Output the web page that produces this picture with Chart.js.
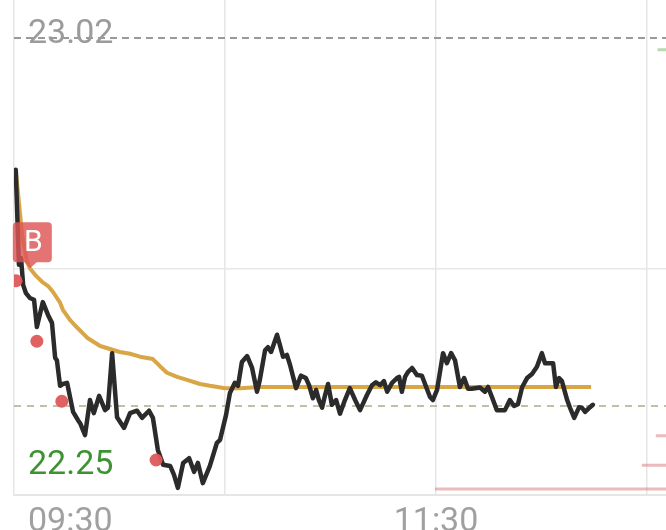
<!DOCTYPE html>
<html>
<head>
<meta charset="utf-8">
<script src="https://cdn.jsdelivr.net/npm/chart.js@4.4.1/dist/chart.umd.min.js"></script>
<style>
  html, body { margin: 0; padding: 0; background: #fff; overflow: hidden; }
  #wrap { width: 666px; height: 530px; }
</style>
</head>
<body>
<div id="wrap"><canvas id="intraday" width="666" height="530"></canvas></div>
<script>
// minutes since 09:30 and price of the intraday line
const minutes = [0.5, 1.4, 2.0, 2.6, 3.4, 4.5, 5.7, 6.5, 8.2, 9.7, 10.8, 11.7, 12.2, 13.1, 13.9, 15.1, 16.8, 18.2, 18.8, 20.2,
  21.6, 22.7, 24.2, 25.9, 26.7, 27.9, 29.3, 31.3, 33.0, 35.0, 36.4, 38.4, 39.5, 40.9, 42.4, 44.4, 45.5, 46.6, 48.1, 49.8,
  51.2, 52.3, 53.7, 55.7, 57.7, 58.6, 60.3, 61.4, 62.8, 63.7, 64.8, 66.3, 67.7, 69.1, 69.9, 71.4, 72.2, 73.1, 74.8, 75.6,
  76.5, 77.6, 78.5, 80.2, 81.6, 83.0, 83.9, 85.0, 85.9, 86.7, 87.6, 88.4, 89.3, 90.4, 91.6, 92.7, 94.1, 95.5, 97.0, 98.4,
  100.4, 101.8, 102.9, 104.1, 105.2, 106.1, 107.5, 108.9, 109.5, 110.3, 111.2, 112.0, 113.2, 114.6, 116.0, 117.2, 118.3, 119.1, 120.3, 122.0,
  123.1, 124.3, 125.4, 126.8, 128.0, 129.1, 130.2, 132.5, 133.9, 134.8, 135.9, 137.3, 139.6, 141.0, 142.2, 143.3, 144.5, 145.9, 147.3, 148.7,
  150.1, 151.0, 153.3, 154.1, 155.0, 155.8, 157.3, 158.1, 159.3, 160.7, 161.5, 162.4, 163.8, 164.6];
const prices = [22.798, 22.638, 22.649, 22.604, 22.590, 22.582, 22.579, 22.533, 22.575, 22.553, 22.540, 22.481, 22.477, 22.434, 22.437, 22.439, 22.390, 22.376, 22.371, 22.351,
  22.410, 22.388, 22.417, 22.393, 22.397, 22.489, 22.381, 22.363, 22.388, 22.392, 22.380, 22.392, 22.380, 22.326, 22.301, 22.299, 22.284, 22.262, 22.304, 22.312,
  22.289, 22.304, 22.270, 22.299, 22.338, 22.343, 22.385, 22.422, 22.439, 22.434, 22.474, 22.484, 22.464, 22.424, 22.444, 22.494, 22.499, 22.491, 22.520, 22.503,
  22.483, 22.486, 22.469, 22.430, 22.451, 22.447, 22.435, 22.413, 22.427, 22.410, 22.397, 22.417, 22.437, 22.402, 22.410, 22.387, 22.410, 22.430, 22.410, 22.393,
  22.419, 22.435, 22.440, 22.435, 22.442, 22.424, 22.439, 22.447, 22.449, 22.424, 22.449, 22.457, 22.464, 22.452, 22.451, 22.432, 22.415, 22.410, 22.427, 22.489,
  22.472, 22.489, 22.477, 22.432, 22.447, 22.429, 22.429, 22.431, 22.424, 22.432, 22.415, 22.393, 22.393, 22.410, 22.400, 22.403, 22.432, 22.447, 22.454, 22.466,
  22.489, 22.472, 22.472, 22.432, 22.447, 22.442, 22.410, 22.397, 22.380, 22.398, 22.397, 22.390, 22.398, 22.402];

// average price line
const avgMinutes = [0.5, 2.3, 3.7, 4.5, 6.0, 8.0, 9.7, 11.1, 13.1, 13.9, 15.9, 17.3, 20.8, 24.5, 27.3, 30.1, 33.0, 35.8, 39.5, 41.5,
  43.5, 46.4, 49.2, 52.9, 55.7, 60.0, 64.3, 70.0, 164.1];
const avgPrices = [22.798, 22.688, 22.643, 22.632, 22.621, 22.609, 22.602, 22.592, 22.574, 22.562, 22.545, 22.536, 22.515, 22.501, 22.496, 22.491, 22.488, 22.483, 22.479, 22.467,
  22.456, 22.449, 22.444, 22.437, 22.434, 22.430, 22.430, 22.432, 22.432];

// buy points
const buyMinutes = [0.6, 6.5, 13.6, 40.4];
const buyPrices = [22.611, 22.509, 22.408, 22.309];
const buyTagMinute = 4.5;
const buyTagPrice = 22.632;

// reference prices
const highPrice = 23.02;
const lowPrice = 22.25;
const prevClose = 22.40;
const sessionEnd = 240;

// pending order lines at the right
const bidPrices = [23.00];
const bidStarts = [183.0];
const askPrices = [22.35, 22.30, 22.26];
const askStarts = [182.5, 178.5, 119.7];

// axis
const gridMinutes = [0, 60, 120, 180];
const gridPrices = [22.25, 22.632];
const tickMinutes = [0, 120];
const tickLabels = ['09:30', '11:30'];

const xMax = 185.4;
const yMax = 23.084;

function pairs(xs, ys) {
    return xs.map((x, i) => ({ x: x, y: ys[i] }));
}

const datasets = [
    {
        data: pairs(buyMinutes, buyPrices),
        showLine: false,
        pointRadius: 6.5,
        pointBackgroundColor: 'rgba(222, 88, 88, 0.95)',
        pointBorderWidth: 0,
        order: 0
    },
    {
        data: pairs(minutes, prices),
        borderColor: '#2b2b2b',
        borderWidth: 4.5,
        pointRadius: 0,
        borderJoinStyle: 'round',
        borderCapStyle: 'round',
        order: 1
    },
    {
        data: pairs(avgMinutes, avgPrices),
        borderColor: '#d9a646',
        borderWidth: 4,
        pointRadius: 0,
        borderJoinStyle: 'round',
        order: 2
    },
    {
        data: [{ x: 0, y: highPrice }, { x: sessionEnd, y: highPrice }],
        borderColor: '#9a9a9a',
        borderWidth: 2,
        borderDash: [7, 5],
        pointRadius: 0,
        order: 3
    },
    {
        data: [{ x: 0, y: prevClose }, { x: sessionEnd, y: prevClose }],
        borderColor: '#b3a98a',
        borderWidth: 1.5,
        borderDash: [7, 6],
        pointRadius: 0,
        order: 3
    }
];

bidPrices.forEach((p, i) => {
    datasets.push({
        data: [{ x: bidStarts[i], y: p }, { x: sessionEnd, y: p }],
        borderColor: 'rgba(120, 190, 110, 0.55)',
        borderWidth: 3,
        pointRadius: 0,
        order: 4
    });
});
askPrices.forEach((p, i) => {
    datasets.push({
        data: [{ x: askStarts[i], y: p }, { x: sessionEnd, y: p }],
        borderColor: 'rgba(215, 120, 120, 0.5)',
        borderWidth: 3,
        pointRadius: 0,
        order: 4
    });
});

// labels and the B tag
const labelPlugin = {
    id: 'labels',
    afterDatasetsDraw(chart) {
        const ctx = chart.ctx;
        const xs = chart.scales.x;
        const ys = chart.scales.y;
        const area = chart.chartArea;

        // B tag
        const tx = xs.getPixelForValue(buyTagMinute);
        const ty = ys.getPixelForValue(buyTagPrice);
        const bx = tx - 17, by = ty - 46, bw = 39, bh = 40;
        ctx.save();
        ctx.fillStyle = 'rgba(222, 86, 86, 0.82)';
        ctx.beginPath();
        ctx.roundRect(bx, by, bw, bh, 4);
        ctx.moveTo(tx - 5, by + bh);
        ctx.lineTo(tx + 7, by + bh);
        ctx.lineTo(tx, ty);
        ctx.closePath();
        ctx.fill();
        ctx.fillStyle = '#fff';
        ctx.font = '30px Roboto';
        ctx.textAlign = 'center';
        ctx.textBaseline = 'middle';
        ctx.fillText('B', bx + bw / 2 + 1, by + bh / 2 + 1);
        ctx.restore();

        ctx.save();
        ctx.font = '34px Roboto';
        ctx.textBaseline = 'middle';
        ctx.textAlign = 'left';
        ctx.fillStyle = '#9b9b9b';
        ctx.fillText(highPrice.toFixed(2), area.left + 14, ys.getPixelForValue(highPrice) - 3);
        ctx.fillStyle = '#3f9233';
        ctx.fillText(lowPrice.toFixed(2), area.left + 14, ys.getPixelForValue(lowPrice) - 30);

        ctx.fillStyle = '#a0a0a0';
        ctx.textBaseline = 'top';
        tickMinutes.forEach((m, i) => {
            const px = xs.getPixelForValue(m);
            if (i === 0) {
                ctx.textAlign = 'left';
                ctx.fillText(tickLabels[i], px + 14, area.bottom + 10);
            } else {
                ctx.textAlign = 'center';
                ctx.fillText(tickLabels[i], px, area.bottom + 10);
            }
        });
        ctx.restore();
    }
};

const ctx = document.getElementById('intraday').getContext('2d');
new Chart(ctx, {
    type: 'line',
    data: { datasets: datasets },
    options: {
        responsive: false,
        animation: false,
        events: [],
        layout: { autoPadding: false, padding: { left: 14, right: 0, top: 0, bottom: 35 } },
        plugins: {
            legend: { display: false },
            tooltip: { enabled: false }
        },
        scales: {
            x: {
                type: 'linear',
                min: 0,
                max: xMax,
                afterBuildTicks: (axis) => { axis.ticks = gridMinutes.map(v => ({ value: v })); },
                afterFit: (axis) => { axis.height = 0; },
                ticks: { display: false },
                grid: { color: '#e6e6e6', lineWidth: 1.5, drawTicks: false },
                border: { display: true, color: '#e6e6e6', width: 2 }
            },
            y: {
                min: lowPrice,
                max: yMax,
                afterBuildTicks: (axis) => { axis.ticks = gridPrices.map(v => ({ value: v })); },
                afterFit: (axis) => { axis.width = 0; },
                ticks: { display: false },
                grid: { color: '#e8e8e8', lineWidth: 1.5, drawTicks: false },
                border: { display: false }
            }
        }
    },
    plugins: [labelPlugin]
});
</script>
</body>
</html>
